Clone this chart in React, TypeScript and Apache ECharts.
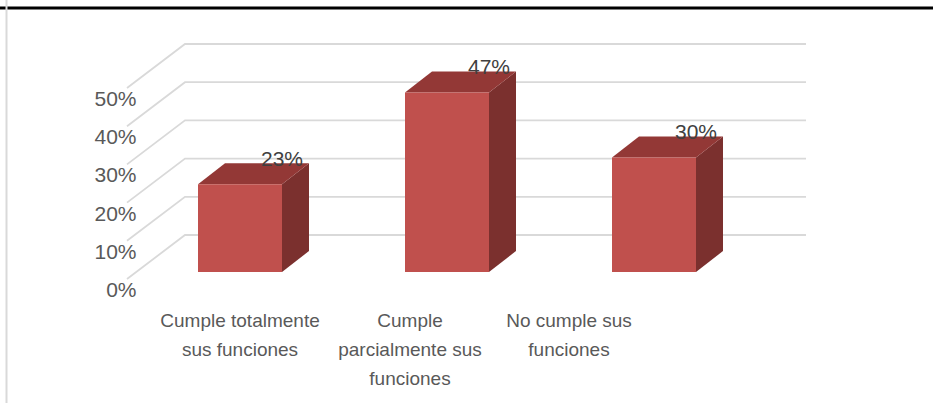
import React, { useEffect, useRef } from "react";
import * as echarts from "echarts";

const categories = [
  "Cumple totalmente\nsus funciones",
  "Cumple\nparcialmente sus\nfunciones",
  "No cumple sus\nfunciones",
];
const values = [23, 47, 30];
const yTicks = [0, 10, 20, 30, 40, 50];

const FONT = '"Liberation Sans", Arial, sans-serif';

export default function App() {
  const ref = useRef<HTMLDivElement>(null);
  useEffect(() => {
    document.body.style.margin = "0";
    const chart = echarts.init(ref.current!, undefined, { renderer: "svg" });
    const labelKeys = ["a", "b", "c"];
    const option: any = {
      animation: false,
      backgroundColor: "#ffffff",
      grid: { left: 136.5, right: 175.5, top: 81, bottom: 131 },
      xAxis: {
        type: "category",
        data: categories,
        axisLine: { show: false },
        axisTick: { show: false },
        splitLine: { show: false },
        axisLabel: {
          interval: 0,
          margin: 34,
          color: "#595959",
          fontSize: 19,
          fontFamily: FONT,
          lineHeight: 29,
          formatter: (val: string, idx: number) =>
            val
              .split("\n")
              .map((l) => `{${labelKeys[idx]}|${l}}`)
              .join("\n"),
          rich: {
            a: { fontSize: 19, lineHeight: 29, color: "#595959", fontFamily: FONT, padding: [0, 0, 0, 0] },
            b: { fontSize: 19, lineHeight: 29, color: "#595959", fontFamily: FONT, padding: [0, 74, 0, 0] },
            c: { fontSize: 19, lineHeight: 29, color: "#595959", fontFamily: FONT, padding: [0, 170, 0, 0] },
          },
        },
      },
      yAxis: {
        type: "value",
        min: 0,
        max: 50,
        interval: 10,
        axisLine: { show: false },
        axisTick: { show: false },
        splitLine: { show: false },
        axisLabel: {
          formatter: "{value}%",
          margin: 0,
          color: "#595959",
          fontSize: 21,
          fontFamily: FONT,
          verticalAlign: "top",
          lineHeight: 21,
          padding: [7, 0, 0, 0],
        },
      },
      graphic: [
        {
          type: "line",
          shape: { x1: 0, y1: 8, x2: 933, y2: 8 },
          style: { stroke: "#000000", lineWidth: 3 },
          z: 10,
        },
        {
          type: "line",
          shape: { x1: 6.5, y1: 0, x2: 6.5, y2: 403 },
          style: { stroke: "#d9d9d9", lineWidth: 2 },
          z: 11,
        },
      ],
      series: [
        {
          type: "custom",
          silent: true,
          clip: false,
          z: 1,
          encode: { x: 0, y: 1 },
          data: yTicks.map((v) => [0, v]),
          renderItem: (params: any, api: any) => {
            const v = api.value(1);
            const cs = params.coordSys;
            const p = api.coord([0, v]);
            const yb = p[1] - 37;
            const xl = cs.x + 48.5;
            const xr = cs.x + cs.width + 48.5;
            return {
              type: "polyline",
              shape: {
                points: [
                  [cs.x - 9.5, yb + 44],
                  [xl, yb],
                  [xr, yb],
                ],
              },
              style: { stroke: "#d9d9d9", lineWidth: 1.8, fill: "none" },
            };
          },
        },
        {
          type: "custom",
          silent: true,
          clip: false,
          z: 2,
          encode: { x: 0, y: 1 },
          data: values.map((v, i) => [i, v]),
          renderItem: (params: any, api: any) => {
            const idx = api.value(0);
            const v = api.value(1);
            const base = api.coord([idx, 0]);
            const top = api.coord([idx, v]);
            const hw = 42;
            const dx = 27;
            const dy = -21;
            const x1 = base[0] - hw;
            const x2 = base[0] + hw;
            const yt = top[1];
            const yb = base[1];
            return {
              type: "group",
              children: [
                {
                  type: "polygon",
                  shape: {
                    points: [
                      [x2, yt],
                      [x2 + dx, yt + dy],
                      [x2 + dx, yb + dy],
                      [x2, yb],
                    ],
                  },
                  style: { fill: "#7b302e" },
                },
                {
                  type: "polygon",
                  shape: {
                    points: [
                      [x1, yt],
                      [x2, yt],
                      [x2 + dx, yt + dy],
                      [x1 + dx, yt + dy],
                    ],
                  },
                  style: { fill: "#933836" },
                },
                {
                  type: "rect",
                  shape: { x: x1, y: yt, width: x2 - x1, height: yb - yt },
                  style: { fill: "#c0504d" },
                },
                {
                  type: "text",
                  x: x2,
                  y: yt + dy - 5,
                  style: {
                    text: v + "%",
                    fill: "#404040",
                    fontSize: 21,
                    fontFamily: FONT,
                    align: "center",
                    verticalAlign: "middle",
                  },
                },
              ],
            };
          },
        },
      ],
    };
    chart.setOption(option);
    return () => chart.dispose();
  }, []);
  return <div ref={ref} style={{ width: 933, height: 403 }} />;
}
